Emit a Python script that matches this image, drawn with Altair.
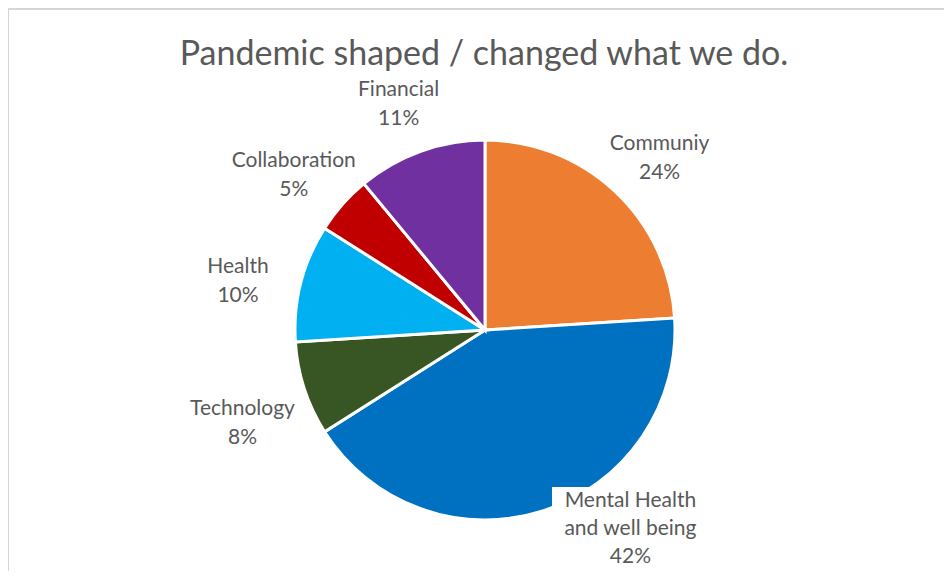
import altair as alt
import pandas as pd

categories = ["Communiy", "Mental Health and well being", "Technology", "Health", "Collaboration", "Financial"]
label_names = ["Communiy", "Mental Health\nand well being", "Technology", "Health", "Collaboration", "Financial"]
shares = [24, 42, 8, 10, 5, 11]
colors = ["#ED7D31", "#0070C0", "#375623", "#00B0F0", "#C00000", "#7030A0"]
title_text = ["Pandemic shaped / changed what we do."]

df = pd.DataFrame({
    "category": categories,
    "name": label_names,
    "share": shares,
    "order": list(range(len(categories))),
})

CX, CY = 477, 247
FONT = "Lato"
GRAY = "#595959"
LABEL_SIZE = 21

base = alt.Chart(df).encode(
    theta=alt.Theta("share:Q", stack=True),
    order=alt.Order("order:Q"),
    x=alt.value(CX),
    y=alt.value(CY),
)

pie = base.mark_arc(outerRadius=190, stroke="white", strokeWidth=3).encode(
    color=alt.Color("category:N", scale=alt.Scale(domain=categories, range=colors), legend=None)
)

label_box = alt.Chart(df).mark_rect(color="white").encode(
    x=alt.value(544), x2=alt.value(712), y=alt.value(404), y2=alt.value(488)
).transform_filter(alt.datum.order == 1)

outer_labels = base.mark_text(
    radius=255, font=FONT, fontSize=LABEL_SIZE, color=GRAY, lineBreak="\n", lineHeight=29,
    align="center", baseline="middle"
).transform_calculate(
    lbl="datum.order == 1 ? '' : datum.name + '\\n' + datum.share + '%'"
).encode(text="lbl:N")

inner_label = base.mark_text(
    radius=215, dx=79, dy=-33, font=FONT, fontSize=LABEL_SIZE, color=GRAY, lineBreak="\n", lineHeight=28,
    align="center", baseline="middle"
).transform_calculate(
    lbl="datum.order == 1 ? datum.name + '\\n' + datum.share + '%' : ''"
).encode(text="lbl:N")

title = alt.Chart(pd.DataFrame({"t": title_text})).mark_text(
    font=FONT, fontSize=34, color=GRAY, align="center", baseline="alphabetic"
).encode(text="t:N", x=alt.value(476), y=alt.value(-18))

frame_top = alt.Chart(df).mark_rule(color="#d6d6d6", strokeWidth=2).encode(
    x=alt.value(0), x2=alt.value(936), y=alt.value(-74)
)
frame_left = alt.Chart(df).mark_rule(color="#d6d6d6", strokeWidth=2).encode(
    x=alt.value(0), y=alt.value(-74), y2=alt.value(488)
)

chart = alt.layer(pie, label_box, outer_labels, inner_label, title, frame_top, frame_left).properties(
    width=936,
    height=488,
    padding={"top": 75, "left": 0, "right": 0, "bottom": 0},
    autosize=alt.AutoSizeParams(type="none"),
).configure_view(stroke=None)

chart.save("out.html", embed_options={"renderer": "svg", "actions": False})
